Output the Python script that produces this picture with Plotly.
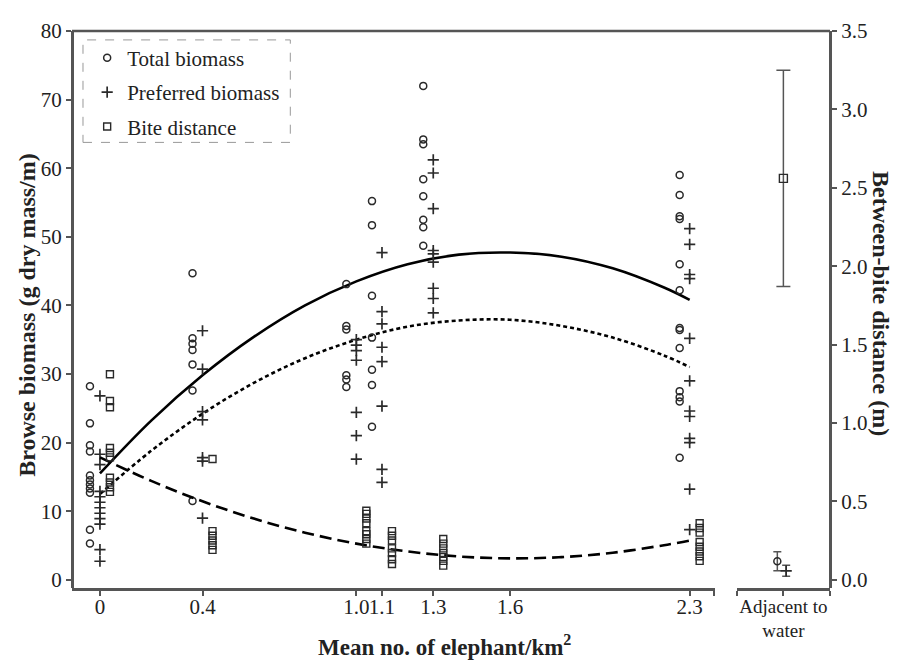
import plotly.graph_objects as go

# ---------------- data ----------------
DENSITY = [0, 0.4, 1.0, 1.1, 1.3, 2.3]
DENSITY_TICKS = ["0", "0.4", "1.0", "1.1", "1.3", "1.6", "2.3"]
DENSITY_TICKVALS = [0, 0.4, 1.0, 1.1, 1.3, 1.6, 2.3]

TOTAL_BIOMASS = [
    [28.2, 22.8, 19.6, 18.7, 15.2, 14.5, 13.9, 13.3, 12.7, 7.3, 5.3],
    [44.7, 35.2, 34.4, 33.5, 31.4, 27.6, 11.5],
    [43.1, 37.0, 36.5, 29.8, 29.2, 28.1],
    [55.2, 51.7, 41.4, 35.3, 30.6, 28.4, 22.3],
    [72.0, 64.2, 63.5, 58.4, 55.9, 52.5, 51.4, 48.7],
    [59.0, 56.1, 53.0, 52.6, 46.0, 42.2, 36.7, 36.4, 33.8, 27.5, 26.6, 26.0, 17.8],
]
PREFERRED_BIOMASS = [
    [26.8, 18.3, 16.8, 12.9, 12.1, 11.3, 10.5, 9.7, 8.9, 8.1, 4.4, 2.7],
    [36.3, 30.7, 24.5, 23.3, 17.8, 17.3, 9.0],
    [35.0, 34.2, 33.4, 32.0, 24.4, 21.0, 17.6],
    [47.7, 39.1, 37.3, 33.9, 31.8, 25.3, 16.1, 14.2],
    [61.2, 59.3, 54.1, 48.0, 47.5, 46.3, 42.5, 41.0, 38.9],
    [51.2, 48.9, 44.5, 43.9, 35.2, 29.0, 24.6, 23.8, 20.6, 20.0, 13.2, 7.3],
]
BITE_DISTANCE = [
    [1.31, 1.14, 1.10, 0.84, 0.81, 0.78, 0.65, 0.62, 0.59, 0.56],
    [0.77, 0.31, 0.28, 0.25, 0.22, 0.19],
    [0.44, 0.42, 0.39, 0.36, 0.31, 0.29, 0.26, 0.23],
    [0.31, 0.28, 0.25, 0.20, 0.17, 0.13, 0.10],
    [0.26, 0.23, 0.20, 0.17, 0.145, 0.12, 0.09],
    [0.36, 0.33, 0.30, 0.24, 0.21, 0.18, 0.15, 0.12],
]

# fitted curves
CURVE_X = [0, 0.2, 0.4, 0.6, 0.8, 1.0, 1.2, 1.4, 1.6, 1.8, 2.0, 2.2, 2.3]
CURVE_TOTAL = [15.5, 23.2, 29.8, 35.4, 40.0, 43.5, 46.0, 47.4, 47.7, 47.1, 45.4, 42.6, 40.8]
CURVE_PREFERRED = [12.5, 18.8, 24.2, 28.7, 32.3, 35.0, 36.9, 37.8, 37.9, 37.0, 35.3, 32.7, 31.0]
CURVE_BITE = [0.78, 0.63, 0.50, 0.39, 0.30, 0.23, 0.18, 0.148, 0.136, 0.144, 0.172, 0.22, 0.25]

# adjacent to water (mean, error)
ADJ_LABEL = "Adjacent to<br>water"
ADJ_TOTAL = 2.7
ADJ_TOTAL_ERR = 1.4
ADJ_PREFERRED = 1.3
ADJ_PREFERRED_ERR = 0.8
ADJ_BITE = 2.56
ADJ_BITE_ERR = 0.69

# ---------------- style ----------------
FONT = "Liberation Serif"
MK = "#2a2a2a"
AX = "#555555"
OFF = 0.039          # horizontal offset of series markers (style)
ADJ_POS = 0.5        # centre of the "adjacent" axis segment
X_END = 2.398

def flat(groups, offset):
    xs, ys = [], []
    for d, vals in zip(DENSITY, groups):
        for v in vals:
            xs.append(d + offset)
            ys.append(v)
    return xs, ys

fig = go.Figure()

tx, ty = flat(TOTAL_BIOMASS, -OFF)
px_, py_ = flat(PREFERRED_BIOMASS, 0.0)
bx, by = flat(BITE_DISTANCE, OFF)

circle = dict(symbol="circle-open", size=7, color=MK, line=dict(width=1.5, color=MK))
plus = dict(symbol="cross-thin-open", size=8, color=MK, line=dict(width=1.7, color=MK))
square = dict(symbol="square-open", size=7, color=MK, line=dict(width=1.4, color=MK))

# curves
fig.add_trace(go.Scatter(x=CURVE_X, y=CURVE_TOTAL, mode="lines", line=dict(color="black", width=2.6, shape="spline"),
                         showlegend=False, xaxis="x", yaxis="y"))
fig.add_trace(go.Scatter(x=CURVE_X, y=CURVE_PREFERRED, mode="lines",
                         line=dict(color="black", width=2.6, dash="4px,3px", shape="spline"),
                         showlegend=False, xaxis="x", yaxis="y"))
fig.add_trace(go.Scatter(x=CURVE_X, y=CURVE_BITE, mode="lines",
                         line=dict(color="black", width=2.6, dash="12px,6px", shape="spline"),
                         showlegend=False, xaxis="x", yaxis="y2"))

# scatter points
fig.add_trace(go.Scatter(x=tx, y=ty, mode="markers", marker=circle, name="Total biomass",
                         legendgroup="a", xaxis="x", yaxis="y"))
fig.add_trace(go.Scatter(x=px_, y=py_, mode="markers", marker=plus, name="Preferred biomass",
                         legendgroup="b", xaxis="x", yaxis="y"))
fig.add_trace(go.Scatter(x=bx, y=by, mode="markers", marker=square, name="Bite distance",
                         legendgroup="c", xaxis="x", yaxis="y2"))

# adjacent to water
eb = dict(type="data", color=AX, thickness=1.5, width=4)
fig.add_trace(go.Scatter(x=[ADJ_POS - 0.065], y=[ADJ_TOTAL], mode="markers", marker=circle,
                         error_y=dict(eb, array=[ADJ_TOTAL_ERR]), showlegend=False, xaxis="x2", yaxis="y"))
fig.add_trace(go.Scatter(x=[ADJ_POS + 0.03], y=[ADJ_PREFERRED], mode="markers", marker=plus,
                         error_y=dict(eb, array=[ADJ_PREFERRED_ERR]), showlegend=False, xaxis="x2", yaxis="y"))
fig.add_trace(go.Scatter(x=[ADJ_POS], y=[ADJ_BITE], mode="markers", marker=dict(square, size=8),
                         error_y=dict(eb, array=[ADJ_BITE_ERR], width=7), showlegend=False, xaxis="x2", yaxis="y2"))

tickfont = dict(family=FONT, size=21, color="#222")
# the page body adds an 8px offset, so the figure is 8px smaller and margins compensate
fig.update_layout(
    width=890, height=661,
    margin=dict(l=64, r=68, t=11, b=81),
    paper_bgcolor="white", plot_bgcolor="white",
    font=dict(family=FONT, color="#222"),
    xaxis=dict(domain=[0, 0.848], range=[-0.109, X_END], tickvals=DENSITY_TICKVALS + [X_END - 0.002],
               ticktext=DENSITY_TICKS + [""], tickangle=0, ticklabelstandoff=-7,
               showline=True, linewidth=2.5, linecolor=AX, ticks="outside", ticklen=5, tickwidth=1.5,
               tickcolor=AX, tickfont=tickfont, showgrid=False, zeroline=False, anchor="y"),
    xaxis2=dict(domain=[0.877, 1], range=[0, 1], tickvals=[0.005, ADJ_POS, 0.995], ticktext=["", ADJ_LABEL, ""],
                tickangle=0, ticklabelstandoff=-6, showline=True, linewidth=2.5, linecolor=AX, ticks="outside",
                ticklen=5, tickwidth=1.5, tickcolor=AX, tickfont=dict(family=FONT, size=19, color="#222"),
                showgrid=False, zeroline=False, anchor="y"),
    yaxis=dict(range=[-1.2, 80], tickvals=[0, 10, 20, 30, 40, 50, 60, 70, 80], showline=True, linewidth=3,
               linecolor=AX, ticks="outside", ticklen=5, tickwidth=1.5, tickcolor=AX, tickfont=tickfont,
               ticklabeloverflow="allow",
               showgrid=False, zeroline=False, anchor="free", position=0),
    yaxis2=dict(range=[-0.053, 3.5], tickvals=[0, 0.5, 1, 1.5, 2, 2.5, 3, 3.5], tickformat=".1f",
                overlaying="y", side="right", anchor="free", position=1, showline=True, linewidth=3,
                linecolor=AX, ticks="outside", ticklen=5, tickwidth=1.5, tickcolor=AX, tickfont=tickfont,
                ticklabeloverflow="allow", showgrid=False, zeroline=False),
    legend=dict(x=0.020, y=0.988, xanchor="left", yanchor="top", bgcolor="rgba(0,0,0,0)", borderwidth=0,
                font=dict(family=FONT, size=21, color="#222"), tracegroupgap=4),
    shapes=[
        dict(type="line", xref="paper", yref="paper", x0=0, x1=1, y0=1, y1=1, line=dict(color=AX, width=2.5)),
        dict(type="rect", xref="paper", yref="paper", x0=0.0145, x1=0.288, y0=0.800, y1=0.984,
             line=dict(color="#999", width=1, dash="dash")),
    ],
    annotations=[
        dict(text="<b>Browse biomass (g dry mass/m)</b>", xref="paper", yref="paper", x=-0.0795, y=0.49,
             textangle=-90, showarrow=False, font=dict(family=FONT, size=24, color="#222")),
        dict(text="<b>Between-bite distance (m)</b>", xref="paper", yref="paper", x=1.087, y=0.51,
             textangle=90, showarrow=False, font=dict(family=FONT, size=24, color="#222")),
        dict(text="<b>Mean no. of elephant/km<sup>2</sup></b>", xref="paper", yref="paper", x=0.492, y=-0.104,
             yanchor="middle", showarrow=False, font=dict(family=FONT, size=23, color="#222")),
    ],
)

fig.write_html("out.html")
